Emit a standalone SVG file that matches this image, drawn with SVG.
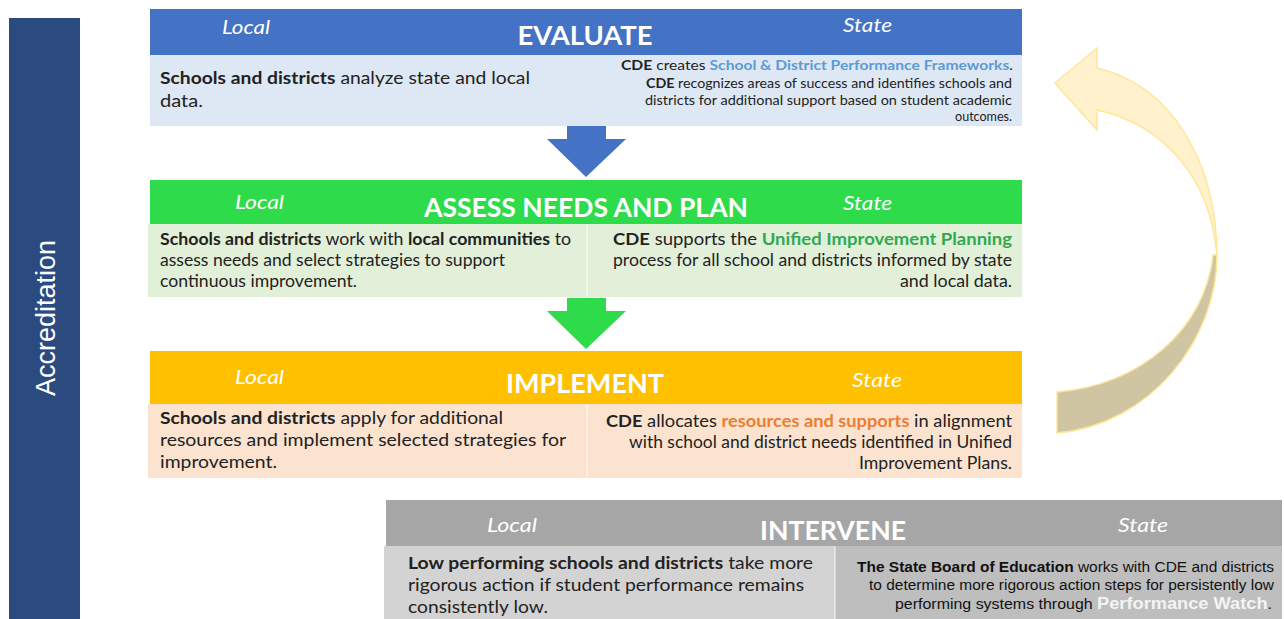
<svg xmlns="http://www.w3.org/2000/svg" width="1284" height="619" viewBox="0 0 1284 619">
<style>
.title{font-family:Lato,"Open Sans",sans-serif;font-weight:bold;font-size:26px;fill:#fff;text-anchor:middle}
.side{font-family:Lato,"Open Sans",sans-serif;font-style:italic;font-size:20px;fill:#fff}
.body{font-family:Lato,"Open Sans",sans-serif;font-size:17px;fill:#222}
.small{font-family:Lato,"Open Sans",sans-serif;font-size:14px;fill:#222}
.ar{font-family:"Liberation Sans",Arial,sans-serif;font-size:14px;fill:#111}
.b{font-weight:bold}
.end{text-anchor:end}
.div{stroke:#fff;stroke-opacity:0.6;stroke-width:1.5}
</style>
<rect width="1284" height="619" fill="#fff"/>

<g id="accreditation">
<rect x="9" y="18" width="71" height="601" fill="#2B4A80"/>
<text x="0" y="0" transform="translate(55,318) rotate(-90)" text-anchor="middle" font-family="Liberation Sans, Arial, sans-serif" font-size="27" fill="#fff">Accreditation</text>
</g>

<g id="evaluate">
<rect x="150" y="9" width="872" height="46" fill="#4472C4"/>
<rect x="150" y="55" width="872" height="71" fill="#DEE8F4"/>
<text class="side" x="222" y="34" textLength="48" lengthAdjust="spacingAndGlyphs">Local</text>
<text class="side" x="843" y="32" textLength="49" lengthAdjust="spacingAndGlyphs">State</text>
<text class="title" x="585" y="45" textLength="135" lengthAdjust="spacingAndGlyphs">EVALUATE</text>
<text class="body" x="160" y="84" textLength="370" lengthAdjust="spacingAndGlyphs"><tspan class="b">Schools and districts</tspan> analyze state and local</text>
<text class="body" x="160" y="107" textLength="43" lengthAdjust="spacingAndGlyphs">data.</text>
<text class="small end" x="1013" y="70" textLength="392" lengthAdjust="spacingAndGlyphs"><tspan class="b">CDE</tspan> creates <tspan class="b" fill="#5B9BD5">School &amp; District Performance Frameworks</tspan>.</text>
<text class="small end" x="1012" y="88" textLength="366" lengthAdjust="spacingAndGlyphs"><tspan class="b">CDE</tspan> recognizes areas of success and identifies schools and</text>
<text class="small end" x="1012" y="105" textLength="367" lengthAdjust="spacingAndGlyphs">districts for additional support based on student academic</text>
<text class="small end" x="1012" y="121" textLength="57" lengthAdjust="spacingAndGlyphs">outcomes.</text>
</g>

<g id="assess">
<rect x="150" y="180" width="872" height="44" fill="#2EDB4B"/>
<rect x="148" y="224" width="874" height="73" fill="#E2F0D9"/>
<line class="div" x1="587" y1="224" x2="587" y2="297"/>
<text class="side" x="235" y="209" textLength="49" lengthAdjust="spacingAndGlyphs">Local</text>
<text class="side" x="843" y="210" textLength="49" lengthAdjust="spacingAndGlyphs">State</text>
<text class="title" x="586" y="217" textLength="324" lengthAdjust="spacingAndGlyphs">ASSESS NEEDS AND PLAN</text>
<text class="body" x="160" y="245" textLength="411" lengthAdjust="spacingAndGlyphs"><tspan class="b">Schools and districts</tspan> work with <tspan class="b">local communities</tspan> to</text>
<text class="body" x="160" y="266" textLength="345" lengthAdjust="spacingAndGlyphs">assess needs and select strategies to support</text>
<text class="body" x="160" y="287" textLength="197" lengthAdjust="spacingAndGlyphs">continuous improvement.</text>
<text class="body end" x="1012" y="245" textLength="399" lengthAdjust="spacingAndGlyphs"><tspan class="b">CDE</tspan> supports the <tspan class="b" fill="#33A853">Unified Improvement Planning</tspan></text>
<text class="body end" x="1012" y="266" textLength="399" lengthAdjust="spacingAndGlyphs">process for all school and districts informed by state</text>
<text class="body end" x="1012" y="287" textLength="112" lengthAdjust="spacingAndGlyphs">and local data.</text>
</g>

<g id="implement">
<rect x="150" y="351" width="872" height="53" fill="#FFC000"/>
<rect x="148" y="404" width="874" height="74" fill="#FBE3CF"/>
<line class="div" x1="587" y1="404" x2="587" y2="478"/>
<text class="side" x="235" y="384" textLength="49" lengthAdjust="spacingAndGlyphs">Local</text>
<text class="side" x="852" y="387" textLength="50" lengthAdjust="spacingAndGlyphs">State</text>
<text class="title" x="585" y="393" textLength="158" lengthAdjust="spacingAndGlyphs">IMPLEMENT</text>
<text class="body" x="160" y="424" textLength="343" lengthAdjust="spacingAndGlyphs"><tspan class="b">Schools and districts</tspan> apply for additional</text>
<text class="body" x="160" y="446" textLength="406" lengthAdjust="spacingAndGlyphs">resources and implement selected strategies for</text>
<text class="body" x="160" y="468" textLength="117" lengthAdjust="spacingAndGlyphs">improvement.</text>
<text class="body end" x="1012" y="427" textLength="406" lengthAdjust="spacingAndGlyphs"><tspan class="b">CDE</tspan> allocates <tspan class="b" fill="#ED7D31">resources and supports</tspan> in alignment</text>
<text class="body end" x="1012" y="448" textLength="383" lengthAdjust="spacingAndGlyphs">with school and district needs identified in Unified</text>
<text class="body end" x="1012" y="469" textLength="153" lengthAdjust="spacingAndGlyphs">Improvement Plans.</text>
</g>

<g id="intervene">
<rect x="386" y="500" width="896" height="46" fill="#A6A6A6"/>
<rect x="384" y="546" width="451" height="73" fill="#D3D3D3"/>
<rect x="835" y="546" width="447" height="73" fill="#BEBEBE"/>
<line class="div" x1="835" y1="546" x2="835" y2="619"/>
<text class="side" x="487" y="532" textLength="50" lengthAdjust="spacingAndGlyphs">Local</text>
<text class="side" x="1118" y="532" textLength="50" lengthAdjust="spacingAndGlyphs">State</text>
<text class="title" x="833" y="540" textLength="146" lengthAdjust="spacingAndGlyphs">INTERVENE</text>
<text class="body" x="408" y="569" textLength="405" lengthAdjust="spacingAndGlyphs"><tspan class="b">Low performing schools and districts</tspan> take more</text>
<text class="body" x="408" y="591" textLength="396" lengthAdjust="spacingAndGlyphs">rigorous action if student performance remains</text>
<text class="body" x="408" y="613" textLength="140" lengthAdjust="spacingAndGlyphs">consistently low.</text>
<text class="ar end" x="1274" y="572" textLength="417" lengthAdjust="spacingAndGlyphs"><tspan class="b">The State Board of Education</tspan> works with CDE and districts</text>
<text class="ar end" x="1274" y="590" textLength="405" lengthAdjust="spacingAndGlyphs">to determine more rigorous action steps for persistently low</text>
<text class="ar end" x="1272" y="609" textLength="377" lengthAdjust="spacingAndGlyphs">performing systems through <tspan class="b" fill="#F4F4F4" font-size="16">Performance Watch</tspan>.</text>
</g>

<g id="connectors">
<polygon points="567,126 606,126 606,139 626,139 586,177 547,139 567,139" fill="#4472C4"/>
<polygon points="567,298 606,298 606,311 626,311 586,349 547,311 567,311" fill="#2EDB4B"/>
<path d="M1217,255 C1217,340 1150,425 1057,433 L1057,392 C1140,385 1205,330 1213,255 Z" fill="#CFC5A3" stroke="#FFE699" stroke-width="1.5"/>
<path d="M1055,83 L1097,48 L1097,68 C1170,85 1217,160 1217,258 C1212,180 1165,125 1097,110 L1097,130 Z" fill="#FFF2CC" stroke="#FFE699" stroke-width="1.5"/>
</g>
</svg>
